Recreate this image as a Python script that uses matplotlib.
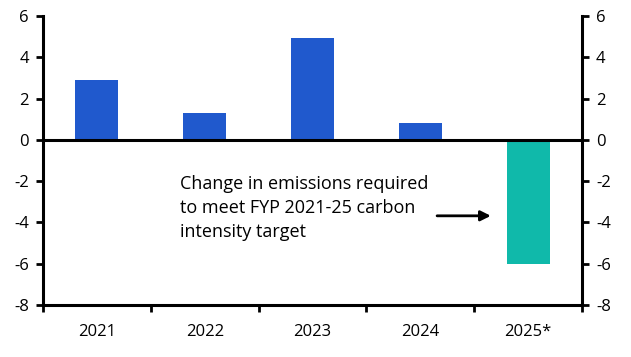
import matplotlib
matplotlib.use("Agg")
import matplotlib.pyplot as plt

categories = ["2021", "2022", "2023", "2024", "2025*"]
values = [2.9, 1.3, 4.93, 0.82, -6.0]
colors = ["#2059cd", "#2059cd", "#2059cd", "#2059cd", "#10b9aa"]
yticks = [-8, -6, -4, -2, 0, 2, 4, 6]
note = "Change in emissions required\nto meet FYP 2021-25 carbon\nintensity target"

plt.rcParams['font.family'] = ['Open Sans', 'DejaVu Sans']

fig = plt.figure(figsize=(6.31, 3.57), dpi=100)
ax = fig.add_axes([43/631, 1-305/357, (582-43)/631, (305-16)/357])

x = list(range(len(categories)))
ax.bar(x, values, width=0.4, color=colors, zorder=2)
ax.axhline(0, color="black", lw=2.2, zorder=3)

ax.set_xlim(-0.5, len(categories) - 0.5)
ax.set_ylim(-8, 6)
ax.set_yticks(yticks)
ax.set_yticklabels([str(v) for v in yticks])

ax.set_xticks(x)
ax.set_xticklabels(categories)
ax.set_xticks([i + 0.5 for i in range(-1, len(categories))], minor=True)
ax.tick_params(axis="x", which="major", length=0, pad=14, labelsize=12)
ax.tick_params(axis="x", which="minor", length=5, width=2, direction="out")
ax.tick_params(axis="y", which="major", length=5, width=2, direction="out", pad=5,
               labelsize=12, left=True, right=True, labelleft=True, labelright=True)

for s in ["left", "right", "bottom"]:
    ax.spines[s].set_linewidth(2.2)
ax.spines["top"].set_visible(False)

ax.text(0.77, -1.72, note, fontsize=13, va="top", ha="left", linespacing=1.42)
ax.annotate("", xy=(3.68, -3.68), xytext=(3.13, -3.68),
            arrowprops=dict(arrowstyle="-|>", color="black", lw=2, mutation_scale=15))

fig.savefig("out.png", dpi=100)
